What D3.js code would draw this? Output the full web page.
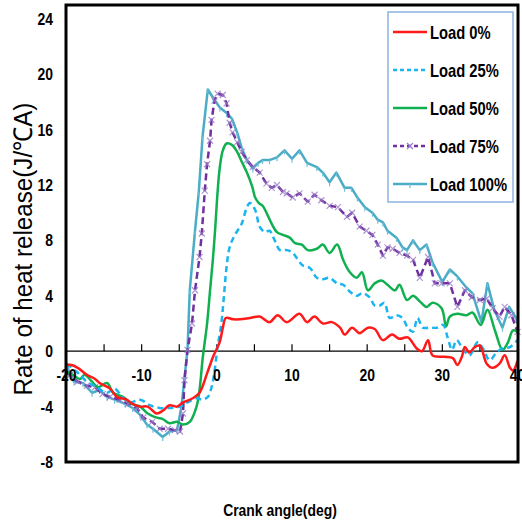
<!DOCTYPE html>
<html>
<head>
<meta charset="utf-8">
<script src="https://cdn.jsdelivr.net/npm/d3@7"></script>
<style>
  body { margin: 0; background: #fff; }
  svg text { font-family: "Liberation Sans", Arial, sans-serif; }
</style>
</head>
<body>
<div id="chart"></div>
<script>
// Rate of heat release vs crank angle, five loads
const loadNames = ["Load 0%", "Load 25%", "Load 50%", "Load 75%", "Load 100%"];
const xTickLabels = [-20, -10, 0, 10, 20, 30, 40];
const xMinorTicks = [-15, -10, -5, 0, 5, 10, 15, 20, 25, 30, 35];
const yTickLabels = [-8, -4, 0, 4, 8, 12, 16, 20, 24];

const load0 = [[-20,-1.0],[-19.3,-1.0],[-18.5,-1.2],[-17.3,-1.7],[-16.2,-2.0],[-15.6,-2.3],[-14.2,-2.7],[-13.3,-3.3],
  [-12.0,-3.5],[-11.2,-3.8],[-10.2,-4.0],[-9.2,-4.0],[-8.0,-4.5],[-7.2,-4.3],[-6.3,-3.9],[-5.3,-4.0],[-4.5,-3.7],
  [-3.2,-3.4],[-2.3,-3.0],[-1.3,-1.6],[-0.5,-0.4],[0.4,0.7],[0.8,1.7],[1.2,2.4],[2.2,2.3],[3.1,2.3],[4.4,2.4],
  [5.7,2.5],[7.0,2.1],[8.1,2.6],[9.3,2.1],[11.0,2.7],[12.0,2.1],[13.0,2.5],[14.1,2.0],[15.3,2.1],[16.4,1.7],
  [17.0,1.2],[18.0,1.7],[19.0,1.3],[20.1,1.7],[21.0,1.6],[22.1,0.8],[23.3,1.2],[24.3,0.9],[25.4,1.0],[26.6,0.2],
  [27.3,0],[28.1,0.8],[28.7,-0.3],[30.3,-0.4],[31.4,-0.5],[32.0,-1.0],[32.6,-0.4],[33.0,0.3],[33.6,-0.1],[34.3,0.3],
  [35.0,0.4],[35.9,-0.9],[36.7,-1.2],[37.6,-0.9],[38.3,-0.3],[39.0,-1.2],[39.4,-1.4],[40,-0.7]];

const load25 = [[-20,-0.9],[-18.6,-1.5],[-17.3,-2.2],[-16,-2.6],[-14.6,-3.0],[-13.6,-2.7],[-12.6,-3.3],[-11.6,-3.7],
  [-10.2,-3.5],[-8.9,-3.9],[-7.6,-4.1],[-6.3,-4.1],[-4.9,-4.0],[-3.9,-3.7],[-2.7,-3.4],[-1.9,-3.5],[-1.2,-3.3],
  [-0.7,-2.6],[-0.3,-1.4],[0.1,0.3],[0.6,2.0],[0.9,3.7],[1.3,6.1],[1.7,7.5],[2.4,8.4],[3.3,9.2],[4.0,10.4],
  [4.4,10.7],[5.1,10.2],[5.7,9.0],[6.4,8.6],[7.0,8.7],[7.7,8.0],[8.4,7.3],[9.3,7.3],[10.1,7.1],[10.8,6.6],
  [11.4,6.2],[12.4,6.0],[13.3,5.3],[14.1,5.2],[15.0,5.3],[16.0,4.9],[16.8,4.8],[17.7,4.3],[18.6,4.0],[19.4,4.2],
  [20.3,3.9],[21.0,3.3],[21.7,3.3],[22.3,3.5],[23.0,2.4],[23.9,2.6],[24.7,2.4],[25.4,1.7],[26.1,1.4],[26.7,2.4],
  [27.4,1.7],[28.3,1.7],[29.3,1.7],[30.1,1.9],[30.7,1.0],[31.3,0.1],[31.9,0.8],[32.7,0.2],[33.6,-0.3],[34.7,0.65],
  [35.4,0.2],[36.3,-0.65],[37.2,-0.1],[38.0,0.2],[39.0,0.3],[40,0.8]];

const load50 = [[-20,-1.5],[-19.5,-1.6],[-18.2,-2.0],[-17.6,-1.7],[-16.6,-2.2],[-15.8,-2.6],[-14.6,-2.3],[-13.8,-3.0],
  [-12.5,-3.3],[-11.3,-3.8],[-10.2,-4.0],[-9.2,-4.5],[-8.0,-4.8],[-7.2,-4.9],[-6.3,-5.2],[-5.3,-5.1],[-4.5,-5.3],
  [-3.6,-5.1],[-2.7,-4.0],[-2.3,-2.8],[-1.9,-0.6],[-1.3,2.0],[-0.9,4.4],[-0.5,6.8],[-0.2,9.0],[0.1,11.5],[0.4,13.3],
  [0.8,14.5],[1.3,15.0],[2.0,14.9],[2.7,14.4],[3.3,13.7],[4.0,12.9],[4.7,11.9],[5.1,11.1],[5.6,10.7],[6.1,10.5],
  [6.6,10.0],[7.3,9.2],[8.0,8.6],[8.8,8.4],[9.7,8.2],[10.4,7.8],[11.3,7.7],[12.1,7.3],[13.3,7.4],[14.1,7.7],
  [15.0,7.1],[16.0,7.7],[16.8,6.6],[17.7,5.7],[18.6,5.3],[19.3,5.7],[20.1,4.4],[21.0,4.9],[21.9,5.1],[22.7,4.8],
  [23.7,4.4],[24.3,4.8],[25.3,3.7],[26.1,4.0],[27.0,3.6],[27.9,3.2],[28.7,3.5],[29.9,3.1],[30.5,1.8],[31.0,2.5],
  [32.0,2.7],[33.2,2.6],[34.0,2.8],[35.1,1.9],[36.0,3.0],[37.0,1.5],[38.0,0.1],[38.7,0.6],[39.4,1.5],[40,1.4]];

const load75 = [[-20,-1.6],[-19.5,-1.7],[-18.5,-2.2],[-17.3,-2.5],[-16.2,-2.6],[-15.2,-3.1],[-14.2,-3.3],[-12.9,-3.5],
  [-11.8,-3.8],[-10.6,-4.1],[-9.8,-4.8],[-8.6,-5.1],[-7.6,-5.6],[-6.5,-5.6],[-5.6,-5.7],[-4.9,-5.8],[-4.5,-4.5],
  [-4.3,-2.1],[-3.9,0.1],[-3.3,2.0],[-2.9,4.4],[-2.3,6.8],[-2.0,8.5],[-1.6,11.6],[-1.3,13.5],[-0.9,15.2],
  [-0.7,16.7],[-0.3,18.1],[0.1,18.6],[0.8,18.5],[1.3,17.9],[1.7,16.5],[2.1,15.8],[2.7,15.1],[3.3,14.4],[4.0,13.8],
  [4.8,13.3],[5.7,12.9],[6.6,12.1],[7.3,11.8],[8.0,12.0],[8.8,11.5],[9.3,11.4],[10.1,11.1],[11.0,11.4],[12.1,10.8],
  [13.0,11.3],[13.9,10.9],[15.0,10.5],[16.1,10.4],[17.3,9.7],[18.0,10.0],[19.0,9.0],[19.9,8.7],[20.7,8.4],[21.4,7.7],
  [22.1,6.9],[22.7,7.5],[23.4,7.4],[24.3,7.1],[25.3,6.9],[26.1,6.6],[27.0,5.3],[28.1,6.8],[29.0,4.9],[29.9,4.9],
  [31.0,4.9],[32.0,3.2],[33.0,4.4],[33.9,3.9],[35.0,3.7],[35.9,3.8],[36.7,3.1],[37.6,2.5],[38.3,3.2],[39.2,2.6],[40,1.4]];

const load100 = [[-20,-0.9],[-19.7,-1.4],[-19.0,-2.2],[-17.8,-2.3],[-16.6,-3.0],[-15.6,-2.8],[-14.6,-3.3],[-13.6,-3.5],
  [-12.2,-3.8],[-11.2,-4.1],[-10.2,-4.6],[-9.3,-5.3],[-8.5,-5.6],[-7.2,-6.2],[-6.3,-5.8],[-5.3,-5.7],[-4.7,-4.0],
  [-4.3,-1.9],[-3.9,0.1],[-3.6,4.4],[-2.9,8.7],[-2.4,11.5],[-1.9,15.5],[-1.2,18.9],[-0.5,18.3],[0.4,17.6],[1.3,17.2],
  [2.0,16.8],[2.7,15.8],[3.3,14.7],[4.0,13.8],[4.8,13.2],[5.5,13.6],[6.1,13.8],[7.0,13.8],[8.0,14.0],[9.0,14.5],
  [10.0,13.9],[11.0,14.5],[12.0,13.6],[13.3,13.3],[14.1,12.9],[15.0,12.2],[15.9,12.9],[17.0,11.8],[17.9,11.8],
  [18.7,11.1],[19.7,10.4],[20.7,10.0],[21.4,9.5],[22.1,9.3],[22.7,8.7],[23.9,8.2],[24.7,7.5],[25.3,7.3],[26.1,8.0],
  [27.0,7.3],[27.9,7.7],[28.7,6.4],[30.0,5.0],[31.0,5.9],[32.0,5.4],[33.2,4.6],[34.0,4.2],[35.2,2.1],[36.0,4.9],
  [36.9,3.0],[38.0,1.7],[38.9,3.2],[39.8,2.4],[40,2.0]];

const seriesData = [load0, load25, load50, load75, load100];
const seriesColors = ["#ff1a1a", "#1ab4f0", "#10b050", "#7030a0", "#4bacc6"];
const seriesDash = [null, "6,4", null, "7,4", null];

const width = 522, height = 526;
const narrow = 0.82; // condensed look of the original lettering

const svg = d3.select("#chart").append("svg")
  .attr("width", width)
  .attr("height", height);

const xScale = d3.scaleLinear().domain([-20, 40]).range([66.5, 517.5]);
const yScale = d3.scaleLinear().domain([-8, 25]).range([462, 5]);

// squeezed text: a group at (x, y), scaled horizontally
function narrowText(parent, x, y, str, size, anchor, weight) {
  return parent.append("text")
    .attr("transform", `translate(${x},${y}) scale(${narrow},1)`)
    .attr("text-anchor", anchor)
    .attr("font-size", size)
    .attr("font-weight", weight)
    .text(str);
}

// zero line with upward ticks
svg.append("line")
  .attr("x1", xScale(-20)).attr("x2", xScale(40))
  .attr("y1", yScale(0)).attr("y2", yScale(0))
  .attr("stroke", "#000").attr("stroke-width", 1.2);

svg.selectAll(".xtick")
  .data(xMinorTicks)
  .join("line")
  .attr("class", "xtick")
  .attr("x1", d => xScale(d)).attr("x2", d => xScale(d))
  .attr("y1", yScale(0)).attr("y2", yScale(0) - 7)
  .attr("stroke", "#000").attr("stroke-width", 1.2);

// lines, drawn back to front
const smooth = d3.line()
  .x(d => xScale(d[0]))
  .y(d => yScale(d[1]))
  .curve(d3.curveCatmullRom.alpha(0.5));
const straight = d3.line()
  .x(d => xScale(d[0]))
  .y(d => yScale(d[1]));

const order = [4, 3, 2, 1, 0];
order.forEach(i => {
  svg.append("path")
    .datum(seriesData[i])
    .attr("d", i >= 3 ? straight : smooth)
    .attr("fill", "none")
    .attr("stroke", seriesColors[i])
    .attr("stroke-width", 2.5)
    .attr("stroke-linejoin", "round")
    .attr("stroke-dasharray", seriesDash[i]);

  if (i === 3) {
    svg.append("g").selectAll("path")
      .data(seriesData[i])
      .join("path")
      .attr("d", d => {
        const x = xScale(d[0]), y = yScale(d[1]);
        return `M${x - 3},${y - 3}L${x + 3},${y + 3}M${x - 3},${y + 3}L${x + 3},${y - 3}`;
      })
      .attr("stroke", "#9a7cc8")
      .attr("stroke-opacity", 0.8)
      .attr("stroke-width", 1.2);
  }
  if (i === 4) {
    svg.append("g").selectAll("line")
      .data(seriesData[i])
      .join("line")
      .attr("x1", d => xScale(d[0])).attr("x2", d => xScale(d[0]))
      .attr("y1", d => yScale(d[1])).attr("y2", d => yScale(d[1]) + 4)
      .attr("stroke", "#6fc0d8")
      .attr("stroke-width", 1.2);
  }
});

// frame
svg.append("rect")
  .attr("x", 66).attr("y", 5)
  .attr("width", 452).attr("height", 457)
  .attr("fill", "none")
  .attr("stroke", "#000")
  .attr("stroke-width", 3);

// tick labels
yTickLabels.forEach(d => narrowText(svg, 53, yScale(d) + 6, d, 17, "end", "bold"));
xTickLabels.forEach(d => narrowText(svg, xScale(d), yScale(0) + 30, d, 17, "middle", "bold"));

// axis titles
svg.append("text")
  .attr("transform", `translate(32, 249) rotate(-90) scale(0.93,1)`)
  .attr("text-anchor", "middle")
  .attr("font-size", 26)
  .text("Rate of  heat release(J/\u2103A)");

narrowText(svg, 280, 516, "Crank angle(deg)", 17, "middle", "bold");

// legend
const legend = svg.append("g");
legend.append("rect")
  .attr("x", 388).attr("y", 12)
  .attr("width", 125).attr("height", 190)
  .attr("fill", "#fff")
  .attr("stroke", "#8db3e2")
  .attr("stroke-width", 1.5);

const legendY = d3.scalePoint().domain(loadNames).range([32, 184]);

loadNames.forEach((name, i) => {
  const y = legendY(name);
  legend.append("line")
    .attr("x1", 393).attr("x2", 427)
    .attr("y1", y).attr("y2", y)
    .attr("stroke", seriesColors[i])
    .attr("stroke-width", 2.5)
    .attr("stroke-dasharray", seriesDash[i] ? "4,3" : null);
  if (i === 3) {
    legend.append("path")
      .attr("d", `M407,${y - 3}L413,${y + 3}M407,${y + 3}L413,${y - 3}`)
      .attr("stroke", "#9a7cc8").attr("stroke-width", 1.2);
  }
  if (i === 4) {
    legend.append("line")
      .attr("x1", 410).attr("x2", 410)
      .attr("y1", y).attr("y2", y + 4)
      .attr("stroke", "#6fc0d8").attr("stroke-width", 1.2);
  }
  narrowText(legend, 430, y + 7, name, 18, "start", "bold");
});
</script>
</body>
</html>
